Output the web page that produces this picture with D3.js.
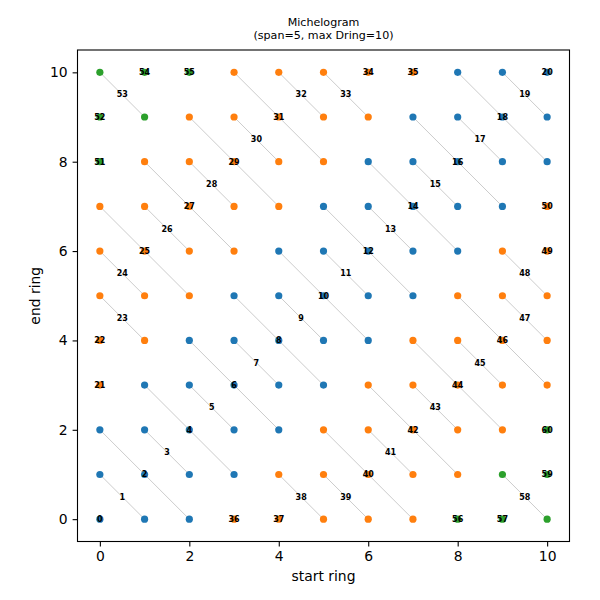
<!DOCTYPE html>
<html>
<head>
<meta charset="utf-8">
<script src="https://cdn.jsdelivr.net/npm/d3@7"></script>
<style>
  body { margin: 0; background: #fff; }
  text { font-family: "DejaVu Sans", sans-serif; }
</style>
</head>
<body>
<div id="chart"></div>
<script>
// ring numbers on both axes
var rings = [0, 1, 2, 3, 4, 5, 6, 7, 8, 9, 10];
var tickVals = [0, 2, 4, 6, 8, 10];

// group of each (start, end) cell, rows from end ring 10 down to 0
// B = blue band, O / o = orange above / below diagonal, G / g = green above / below
var groupRows = [
  "GGGOOOOOBBB",
  "GGOOOOOBBBB",
  "GOOOOOBBBBB",
  "OOOOOBBBBBo",
  "OOOOBBBBBoo",
  "OOOBBBBBooo",
  "OOBBBBBoooo",
  "OBBBBBooooo",
  "BBBBBooooog",
  "BBBBooooogg",
  "BBBoooooggg"
];
// order the sinograms are numbered in
var groupOrder = ["B", "O", "o", "G", "g"];
var groupColor = {B: "#1f77b4", O: "#ff7f0e", o: "#ff7f0e", G: "#2ca02c", g: "#2ca02c"};

var margin = {top: 50, right: 30.5, bottom: 58.5, left: 77.5},
    width = 600 - margin.left - margin.right,
    height = 600 - margin.top - margin.bottom;

var x = d3.scaleLinear().domain([-0.5, 10.5]).range([0, width]);
var y = d3.scaleLinear().domain([-0.5, 10.5]).range([height, 0]);

var svg = d3.select("#chart").append("svg")
    .attr("width", 600)
    .attr("height", 600);

var g = svg.append("g")
    .attr("transform", "translate(" + margin.left + "," + margin.top + ")");

// build the cells
var cells = [];
groupRows.forEach(function(row, i) {
  var e = rings[rings.length - 1 - i];
  row.split("").forEach(function(c, j) {
    cells.push({s: rings[j], e: e, grp: c});
  });
});

// one segment per group and per start+end sum
var segs = [];
groupOrder.forEach(function(grp) {
  for (var n = 0; n <= 20; n++) {
    var pts = cells.filter(function(d) { return d.grp == grp && d.s + d.e == n; })
                   .sort(function(a, b) { return a.s - b.s; });
    if (pts.length == 0) continue;
    segs.push({
      id: segs.length,
      a: pts[0], b: pts[pts.length - 1],
      ms: d3.mean(pts, function(d) { return d.s; }),
      me: d3.mean(pts, function(d) { return d.e; })
    });
  }
});

// lines
g.selectAll(".seg")
    .data(segs.filter(function(d) { return d.a !== d.b; }))
    .enter().append("line")
    .attr("x1", function(d) { return x(d.a.s); })
    .attr("y1", function(d) { return y(d.a.e); })
    .attr("x2", function(d) { return x(d.b.s); })
    .attr("y2", function(d) { return y(d.b.e); })
    .attr("stroke", "#cccccc")
    .attr("stroke-width", 1);

// points
g.selectAll(".pt")
    .data(cells)
    .enter().append("circle")
    .attr("cx", function(d) { return x(d.s); })
    .attr("cy", function(d) { return y(d.e); })
    .attr("r", 3.6)
    .attr("fill", function(d) { return groupColor[d.grp]; });

// sinogram numbers
g.selectAll(".lbl")
    .data(segs)
    .enter().append("text")
    .attr("x", function(d) { return x(d.ms); })
    .attr("y", function(d) { return y(d.me); })
    .attr("text-anchor", "middle")
    .attr("dy", "0.35em")
    .attr("font-size", "8px")
    .attr("font-weight", "bold")
    .attr("fill", "#000")
    .text(function(d) { return d.id; });

// axes
var xAxis = g.append("g")
    .attr("transform", "translate(0," + height + ")")
    .call(d3.axisBottom(x).tickValues(tickVals).tickSize(4.9).tickPadding(4.9).tickSizeOuter(0));
var yAxis = g.append("g")
    .call(d3.axisLeft(y).tickValues(tickVals).tickSize(4.9).tickPadding(4.9).tickSizeOuter(0));
[xAxis, yAxis].forEach(function(a) {
  a.select(".domain").remove();
  a.selectAll("text").attr("font-size", "13.9px").attr("font-family", "DejaVu Sans").attr("fill", "#000");
  a.selectAll("line").attr("stroke", "#000").attr("stroke-width", 1.1);
});

// frame
g.append("rect")
    .attr("width", width)
    .attr("height", height)
    .attr("fill", "none")
    .attr("stroke", "#000")
    .attr("stroke-width", 1.1);

// axis labels
svg.append("text")
    .attr("x", margin.left + width / 2)
    .attr("y", 581)
    .attr("text-anchor", "middle")
    .attr("font-size", "13.9px")
    .text("start ring");
svg.append("text")
    .attr("transform", "translate(39.5," + (margin.top + height / 2) + ") rotate(-90)")
    .attr("text-anchor", "middle")
    .attr("font-size", "13.9px")
    .text("end ring");

// title
svg.append("text")
    .attr("x", margin.left + width / 2)
    .attr("y", 25.5)
    .attr("text-anchor", "middle")
    .attr("font-size", "11.1px")
    .text("Michelogram");
svg.append("text")
    .attr("x", margin.left + width / 2)
    .attr("y", 39)
    .attr("text-anchor", "middle")
    .attr("font-size", "11.1px")
    .text("(span=5, max Dring=10)");
</script>
</body>
</html>
